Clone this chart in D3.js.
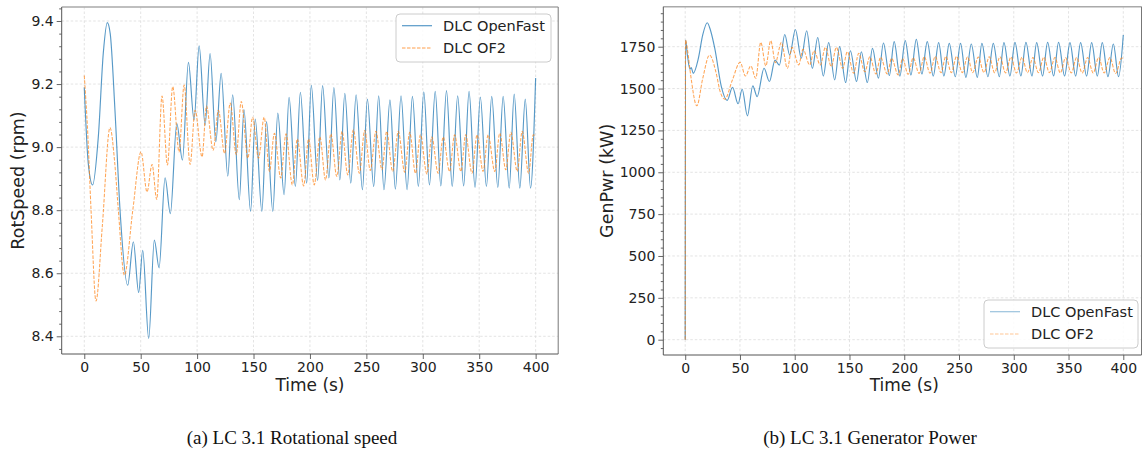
<!DOCTYPE html>
<html><head><meta charset="utf-8">
<script src="https://cdn.jsdelivr.net/npm/d3@7"></script>
<style>
body{margin:0;background:#fff;}
svg{display:block;font-family:"DejaVu Sans",sans-serif;}
</style></head><body>
<svg id="chart" width="1142" height="451"></svg>
<script>
// ---------------- data ----------------
const timeTicks = [0, 50, 100, 150, 200, 250, 300, 350, 400];
const rotSpeedTicks = [8.4, 8.6, 8.8, 9.0, 9.2, 9.4];
const genPwrTicks = [0, 250, 500, 750, 1000, 1250, 1500, 1750];
const seriesNames = ["DLC OpenFast", "DLC OF2"];
const captions = ["(a) LC 3.1 Rotational speed", "(b) LC 3.1 Generator Power"];

// [time (s), rotor speed (rpm)]
const rotSpeedOpenFast = [
[0,9.19],[3.5,8.95],[7.4,8.88],[12.4,9.03],[16.9,9.30],[20.4,9.395],[23,9.36],[27.2,9.117],[31.7,8.80],
[38.5,8.562],[43.5,8.70],[48.2,8.539],[51.8,8.673],[57.1,8.393],[62.1,8.705],[66.3,8.617],[71.6,8.903],
[76.3,8.789],[82,9.075],[87,8.959],[92.3,9.269],[97.3,9.086],[101.8,9.321],[107.1,9.07],[111.5,9.297],
[116.6,9.017],[121.3,9.234],[127.2,8.908],[131.5,9.166],[137.4,8.833],[141.5,9.119],[147.4,8.796],
[151.5,9.089],[157.4,8.796],[161.5,9.081],[167.1,8.796],[171.5,9.108],[177.1,8.849],[181.5,9.158],
[187.1,8.875],[191.5,9.174],[197.1,8.886],[201.2,9.196],[206.8,8.894],[211.2,9.195],[216.8,8.902],
[221.2,9.189],[226.5,8.896],[230.9,9.171],[236.2,8.886],[240.9,9.166],[246.5,8.865],[250.9,9.152],
[256.5,8.875],[260.9,9.163],[265.6,8.865],[270.9,9.150],[275.7,8.867],[280.7,9.163],[286.1,8.865],
[290.8,9.161],[296.1,8.875],[300.9,9.175],[305.9,8.880],[311,9.177],[316,8.877],[321,9.179],
[326.1,8.875],[330.9,9.163],[336.2,8.877],[341,9.177],[346.3,8.872],[351,9.159],[356.4,8.875],
[361.1,9.161],[366.5,8.872],[371.2,9.161],[376.6,8.870],[381,9.168],[386,8.870],[390.8,9.152],
[395.5,8.870],[400,9.219]
];
const rotSpeedOF2 = [
[0,9.227],[3,9.05],[6,8.80],[10.4,8.512],[16,8.75],[22.8,9.062],[27,8.95],[30.2,8.80],[35.5,8.594],
[43,8.80],[50.3,8.985],[55.6,8.858],[60.1,8.945],[64.2,8.834],[68.9,9.162],[73.7,8.943],[78.4,9.192],
[84,8.985],[88.5,9.197],[93.8,8.945],[98.2,9.117],[104.4,8.969],[108.3,9.13],[114.2,8.99],[118.9,9.117],
[124.3,8.98],[129.4,9.14],[134.7,8.976],[139.1,9.145],[145,8.965],[149.1,9.095],[154.4,8.965],
[159.4,9.095],[164.1,8.923],[168.5,9.044],[174.1,8.902],[178.8,9.042],[184.4,8.88],[188.8,9.026],
[194.4,8.877],[198.8,9.026],[203.8,8.88],[208.8,9.032],[213.8,8.896],[218.5,9.042],[223.8,8.907],
[228.5,9.05],[233.5,8.912],[238.5,9.055],[243.8,8.917],[248.5,9.053],[253.5,8.926],[258.5,9.05],
[263.8,8.928],[268,9.05],[273.3,8.923],[278.3,9.05],[284,8.92],[288.4,9.047],[293.5,8.917],
[297.9,9.039],[303.6,8.915],[308,9.032],[313.6,8.917],[318.1,9.032],[323.7,8.923],[328.2,9.039],
[333.8,8.923],[338,9.039],[343.6,8.917],[348.1,9.039],[353.4,8.923],[357.9,9.039],[363.8,8.923],
[368.2,9.044],[373.6,8.928],[378,9.047],[383.7,8.923],[388.1,9.05],[393.8,8.917],[397.9,9.039],
[400,9.034]
];

// [time (s), generator power (kW)]
const genPwrOpenFast = [
[0,0],[0.3,1790],[2,1700],[4.3,1615],[5.5,1625],[7.3,1591],[12,1680],[16,1820],[20.1,1893],[23,1850],
[27,1740],[33,1512],[38.3,1429],[43.2,1508],[48.3,1409],[52,1496],[56.8,1337],[61.7,1516],[65.7,1452],
[72,1621],[76.9,1542],[82,1670],[86,1640],[90.9,1823],[95.4,1700],[100.6,1853],[106,1681],[110.9,1845],
[116.1,1621],[121,1805],[126.1,1575],[131,1774],[136.5,1552],[141,1750],[146.5,1536],[150.8,1726],
[156.5,1542],[160.8,1720],[166.3,1536],[171,1740],[176.4,1562],[181,1772],[186.4,1578],[190.8,1780],
[196,1575],[200.9,1786],[206.1,1581],[211,1794],[216.1,1587],[221,1780],[226.5,1575],[231.4,1774],
[236.2,1575],[241.1,1770],[246.6,1571],[251.4,1770],[256.3,1567],[261.2,1766],[266.7,1567],[270.9,1770],
[276.4,1571],[281.3,1770],[286.8,1571],[291,1774],[296.5,1575],[301.1,1776],[306.5,1575],[311.1,1776],
[316.6,1575],[320.9,1774],[326.3,1575],[330.9,1776],[336.4,1575],[340.9,1776],[346.4,1575],[351.3,1774],
[356.5,1575],[361,1774],[366.5,1575],[371.1,1774],[376.3,1575],[380.8,1774],[386,1571],[390.9,1766],
[395.7,1571],[400,1820]
];
const genPwrOF2 = [
[0,0],[0.3,1790],[2.1,1730],[5,1580],[10.6,1397],[16,1560],[22.2,1700],[28,1600],[32,1480],[36.2,1437],
[43,1550],[50.2,1657],[55,1575],[59.9,1635],[64.4,1561],[69,1776],[73.6,1635],[78.1,1786],[82.4,1655],
[87.8,1776],[93.3,1621],[97.6,1746],[103.6,1641],[107.6,1734],[113.7,1641],[117.6,1726],[123.4,1641],
[128,1746],[133.4,1631],[138,1746],[143.8,1621],[148,1720],[153.8,1591],[158.4,1710],[164,1600],
[168.6,1690],[174.1,1587],[178.4,1687],[184.5,1587],[188.4,1681],[194.5,1581],[198.5,1680],[203.5,1585],
[208.2,1684],[213.5,1590],[218.3,1690],[223.5,1592],[228.3,1692],[233.5,1595],[238,1692],[243,1595],
[247.8,1692],[253,1595],[257.8,1690],[262.5,1595],[267.6,1688],[272.8,1595],[277.6,1690],[282.5,1595],
[287.4,1690],[292.5,1593],[297.4,1688],[302.5,1593],[307.5,1687],[312.5,1595],[317.5,1685],[322.5,1595],
[327.5,1688],[332.5,1595],[337.6,1685],[342.5,1593],[347.3,1684],[352.5,1593],[357.4,1685],[362.5,1593],
[367.4,1685],[372.5,1593],[377.5,1685],[382.5,1593],[387.8,1685],[393,1590],[398.5,1683],[400,1680]
];

// ---------------- drawing ----------------
const svg = d3.select("#chart");
const C_BLUE = "#1f77b4", C_ORANGE = "#ff7f0e";

function minorTicks(major, n) {
  const out = [];
  const step = major[1] - major[0];
  const all = [major[0] - step, ...major, major[major.length - 1] + step];
  for (let i = 0; i < all.length - 1; i++)
    for (let k = 1; k < n; k++) out.push(all[i] + step * k / n);
  return out;
}

function panel(cfg, idx) {
  const x = d3.scaleLinear().domain([-20, 420]).range([cfg.x0, cfg.x1]);
  const y = d3.scaleLinear().domain(cfg.yDomain).range([cfg.y1, cfg.y0]);
  const g = svg.append("g");
  const rightEdge = cfg.rightSpine;

  // grid
  const grid = g.append("g").attr("stroke", "#dcdcdc").attr("stroke-width", 0.8).attr("stroke-dasharray", "2.5,2");
  timeTicks.forEach(t => grid.append("line").attr("x1", x(t)).attr("x2", x(t)).attr("y1", cfg.y0).attr("y2", cfg.y1));
  cfg.yTicks.forEach(v => grid.append("line").attr("x1", cfg.x0).attr("x2", rightEdge).attr("y1", y(v)).attr("y2", y(v)));

  // clip
  const clipId = "clip" + idx;
  svg.append("clipPath").attr("id", clipId).append("rect")
    .attr("x", cfg.x0).attr("y", cfg.y0).attr("width", rightEdge - cfg.x0).attr("height", cfg.y1 - cfg.y0);

  const line = d3.line().x(d => x(d[0])).y(d => y(d[1])).curve(d3.curveMonotoneX);
  const lg = g.append("g").attr("clip-path", `url(#${clipId})`);
  lg.append("path").datum(cfg.series[0]).attr("d", line).attr("fill", "none")
    .attr("stroke", C_BLUE).attr("stroke-width", 1.15).attr("stroke-opacity", 0.75);
  lg.append("path").datum(cfg.series[1]).attr("d", line).attr("fill", "none")
    .attr("stroke", C_ORANGE).attr("stroke-width", 1.05).attr("stroke-opacity", 0.7)
    .attr("stroke-dasharray", "3.5,1.5");

  // axes
  const xAxis = g.append("g").attr("transform", `translate(0,${cfg.y1})`)
    .call(d3.axisBottom(x).tickValues(timeTicks).tickSize(5).tickPadding(3).tickFormat(d3.format("d")));
  const yAxis = g.append("g").attr("transform", `translate(${cfg.x0},0)`)
    .call(d3.axisLeft(y).tickValues(cfg.yTicks).tickSize(5).tickPadding(3).tickFormat(cfg.fmt));
  const yMinor = g.append("g").attr("transform", `translate(${cfg.x0},0)`)
    .call(d3.axisLeft(y).tickValues(minorTicks(cfg.yTicks, 5).filter(v => v > cfg.yDomain[0] && v < cfg.yDomain[1]))
      .tickSize(2.5).tickFormat(""));
  [xAxis, yAxis, yMinor].forEach(a => {
    a.select(".domain").remove();
    a.selectAll(".tick line").attr("stroke", "#555").attr("stroke-width", 0.9);
    a.selectAll("text").attr("font-size", 14).attr("fill", "#222").attr("font-family", "DejaVu Sans");
  });

  // spines
  g.append("line").attr("x1", cfg.x0).attr("x2", rightEdge).attr("y1", cfg.y0).attr("y2", cfg.y0)
    .attr("stroke", "#aaa").attr("stroke-width", 1.6);
  g.append("line").attr("x1", rightEdge).attr("x2", rightEdge).attr("y1", cfg.y0).attr("y2", cfg.y1)
    .attr("stroke", "#777").attr("stroke-width", 1);
  g.append("line").attr("x1", cfg.x0).attr("x2", cfg.x0).attr("y1", cfg.y0).attr("y2", cfg.y1)
    .attr("stroke", "#555").attr("stroke-width", 1);
  g.append("line").attr("x1", cfg.x0).attr("x2", rightEdge).attr("y1", cfg.y1).attr("y2", cfg.y1)
    .attr("stroke", "#555").attr("stroke-width", 1);

  // labels
  g.append("text").attr("x", (cfg.x0 + cfg.x1) / 2).attr("y", 390.5).attr("text-anchor", "middle")
    .attr("font-size", 17).attr("fill", "#222").text("Time (s)");
  g.append("text").attr("transform", `translate(${cfg.yLabelX},${(cfg.y0 + cfg.y1) / 2}) rotate(-90)`)
    .attr("text-anchor", "middle").attr("font-size", 17.5).attr("fill", "#222").text(cfg.yLabel);
  g.append("text").attr("x", cfg.captionX).attr("y", 444).attr("text-anchor", "middle")
    .attr("font-family", "Liberation Serif, Times New Roman, serif").attr("font-size", 19).attr("fill", "#111")
    .text(captions[idx]);

  // legend
  const L = cfg.legend;
  const leg = g.append("g");
  leg.append("rect").attr("x", L.x).attr("y", L.y).attr("width", L.w).attr("height", L.h).attr("rx", 4)
    .attr("fill", "#fff").attr("fill-opacity", 0.85).attr("stroke", "#ccc").attr("stroke-width", 1);
  seriesNames.forEach((name, i) => {
    const yy = L.y + 11.7 + i * 22.3;
    leg.append("line").attr("x1", L.x + 6).attr("x2", L.x + 36).attr("y1", yy).attr("y2", yy)
      .attr("stroke", i === 0 ? C_BLUE : C_ORANGE).attr("stroke-width", i === 0 ? 1.2 : 1)
      .attr("stroke-opacity", L.alpha).attr("stroke-dasharray", i === 0 ? null : "3.5,1.5");
    leg.append("text").attr("x", L.x + 47).attr("y", yy + 5.2).attr("font-size", 14.5).attr("fill", "#222").text(name);
  });
}

panel({
  x0: 61.7, x1: 558.2, rightSpine: 558.2, y0: 7, y1: 354,
  yDomain: [8.3439, 9.4444], yTicks: rotSpeedTicks, fmt: d3.format(".1f"),
  series: [rotSpeedOpenFast, rotSpeedOF2], yLabel: "RotSpeed (rpm)", yLabelX: 24, captionX: 292,
  legend: { x: 396, y: 14, w: 155, h: 48, alpha: 0.75 }
}, 0);

panel({
  x0: 663.3, x1: 1145.2, rightSpine: 1141.5, y0: 6.7, y1: 355,
  yDomain: [-91.4, 1988.9], yTicks: genPwrTicks, fmt: d3.format("d"),
  series: [genPwrOpenFast, genPwrOF2], yLabel: "GenPwr (kW)", yLabelX: 613, captionX: 870,
  legend: { x: 984, y: 300, w: 154, h: 48, alpha: 0.45 }
}, 1);
</script>
</body></html>
